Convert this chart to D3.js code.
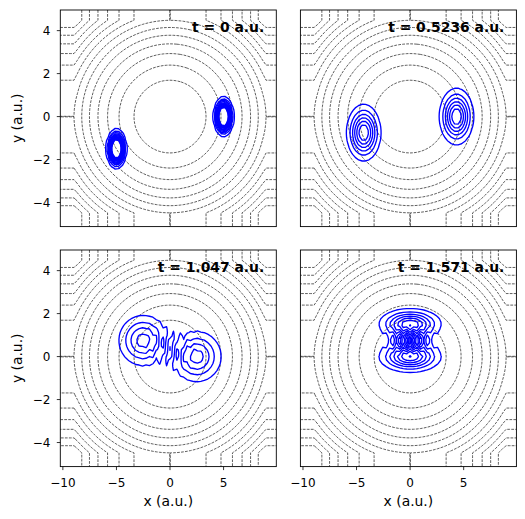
<!DOCTYPE html>
<html><head><meta charset="utf-8">
<script src="https://cdn.jsdelivr.net/npm/d3@7"></script>
<style>
body{margin:0;background:#fff}
svg{display:block}
text{font-family:"DejaVu Sans",sans-serif;fill:#000}
</style>
</head><body>
<svg id="chart" width="525" height="519"></svg>
<script>
// ---- data ----
const times = [0, 0.5236, 1.047, 1.571];
const timeLabels = ["t = 0 a.u.", "t = 0.5236 a.u.", "t = 1.047 a.u.", "t = 1.571 a.u."];
const packetX0 = [-5, 5];          // initial packet centres, x
const packetY0 = [-1.5, 0];        // initial packet centres, y
const packetA0 = [2.0, 2.0];       // initial Gaussian width parameter
const omega = [1, 2];              // trap frequency in x and y
const densityLevels = [0.019,0.0425,0.066,0.0895,0.113,0.1365,0.16,0.1835,0.207,
                       0.2305,0.254,0.2775,0.301];
const potentialCap = [8.9, 4.48];  // where the potential flattens, x and y
const potentialLevels = [0.143,0.286,0.429,0.571,0.714,0.857,1.0001,
                         1.143,1.286,1.429,1.571,1.714,1.857];
const gridStep = [0.32, 0.16];     // sampling grid of the simulation
const xDomain = [-10.24, 9.92];
const yDomain = [-5.12, 4.96];
const xTicks = [-10, -5, 0, 5];
const yTicks = [-4, -2, 0, 2, 4];

// ---- layout ----
const colX = [60.3, 300.4], rowY = [10, 250], PW = 216, PH = 216.6;
const svg = d3.select("#chart");

function complexB(b0, w, t){
  const c = Math.cos(w*t), s = Math.sin(w*t);
  const nr = b0*c, ni = s, dr = c, di = b0*s, den = dr*dr + di*di;
  return [(nr*dr + ni*di)/den, (ni*dr - nr*di)/den];
}
function factor(coords, q0, a0, w, t){
  const [br, bi] = complexB(2*a0/w, w, t);
  const ar = w/2*br, ai = w/2*bi;
  const q = q0*Math.cos(w*t), p = -q0*w*Math.sin(w*t);
  const g = -w*q0*q0*Math.sin(2*w*t)/4;
  const amp = Math.pow(2*ar/Math.PI, 0.25);
  return coords.map(x => {
    const d = x - q, m = amp*Math.exp(-ar*d*d), ph = -ai*d*d + p*d + g;
    return [m*Math.cos(ph), m*Math.sin(ph)];
  });
}

// coarse simulation grid
const NX = Math.round((xDomain[1]-xDomain[0])/gridStep[0]) + 1;
const NY = Math.round((yDomain[1]-yDomain[0])/gridStep[1]) + 1;
const gx0 = xDomain[0], gdx = gridStep[0], gy0 = yDomain[0], gdy = gridStep[1];
const gxs = d3.range(NX).map(i => gx0 + i*gdx);
const gys = d3.range(NY).map(j => gy0 + j*gdy);

const potVals = [];
for (let j=0;j<NY;j++) for (let i=0;i<NX;i++)
  potVals.push(Math.min((gxs[i]/potentialCap[0])**2, 1) + Math.min((gys[j]/potentialCap[1])**2, 1));
const potContours = d3.contours().size([NX, NY]).thresholds(potentialLevels)(potVals);

times.forEach((t, k) => {
  const col = k % 2, row = Math.floor(k/2);
  const L = colX[col], T = rowY[row];
  const xs = d3.scaleLinear(xDomain, [L, L+PW]);
  const ys = d3.scaleLinear(yDomain, [T+PH, T]);
  const g = svg.append("g");
  const cid = "clip" + k;
  g.append("clipPath").attr("id", cid).append("rect")
    .attr("x", L).attr("y", T).attr("width", PW).attr("height", PH);
  const inner = g.append("g").attr("clip-path", `url(#${cid})`);

  const gridPath = d3.geoPath(d3.geoTransform({point(x, y){
    this.stream.point(xs(gx0 + (x-0.5)*gdx), ys(gy0 + (y-0.5)*gdy)); }}));
  inner.append("g").selectAll("path").data(potContours).join("path")
    .attr("d", gridPath).attr("fill", "none").attr("stroke", "#1a1a1a")
    .attr("stroke-width", 0.7).attr("stroke-dasharray", "2.8,1.2");

  // density
  const fx = packetX0.map((x0, p) => factor(gxs, x0, packetA0[p], omega[0], t));
  const fy = packetY0.map((y0, p) => factor(gys, y0, packetA0[p], omega[1], t));
  const vals = new Array(NX*NY);
  for (let j=0;j<NY;j++) for (let i=0;i<NX;i++){
    let re = 0, im = 0;
    for (let p=0;p<packetX0.length;p++){
      const a = fx[p][i], b = fy[p][j];
      re += a[0]*b[0] - a[1]*b[1]; im += a[0]*b[1] + a[1]*b[0];
    }
    vals[j*NX+i] = (re*re + im*im)/2;
  }
  const dens = d3.contours().size([NX, NY]).thresholds(densityLevels)(vals);
  inner.append("g").selectAll("path").data(dens).join("path")
    .attr("d", gridPath).attr("fill", "none").attr("stroke", "#0000ff")
    .attr("stroke-width", 1.35).attr("stroke-linejoin", "round");

  // frame
  g.append("rect").attr("x", L).attr("y", T).attr("width", PW).attr("height", PH)
    .attr("fill", "none").attr("stroke", "#000").attr("stroke-width", 0.9);

  // title
  g.append("text").attr("x", L+PW-12).attr("y", T+22.3).attr("text-anchor", "end")
    .attr("font-weight", "bold").attr("font-size", 13.9).text(timeLabels[k]);

  if (col === 0){
    yTicks.forEach(v => {
      g.append("line").attr("x1", L-3.5).attr("x2", L).attr("y1", ys(v)).attr("y2", ys(v))
        .attr("stroke", "#000").attr("stroke-width", 0.8);
      g.append("text").attr("x", L-9.8).attr("y", ys(v)+4.6).attr("text-anchor", "end")
        .attr("font-size", 12).text(String(v).replace("-", "\u2212"));
    });
    g.append("text").attr("transform", `translate(21.5,${T+PH/2}) rotate(-90)`)
      .attr("text-anchor", "middle").attr("font-size", 13.9).text("y (a.u.)");
  }
  if (row === 1){
    xTicks.forEach(v => {
      g.append("line").attr("x1", xs(v)).attr("x2", xs(v)).attr("y1", T+PH).attr("y2", T+PH+3.5)
        .attr("stroke", "#000").attr("stroke-width", 0.8);
      g.append("text").attr("x", xs(v)).attr("y", T+PH+20.5).attr("text-anchor", "middle")
        .attr("font-size", 12).text(String(v).replace("-", "\u2212"));
    });
    g.append("text").attr("x", L+PW/2).attr("y", 505.5).attr("text-anchor", "middle")
      .attr("font-size", 13.9).text("x (a.u.)");
  }
});
</script>
</body></html>
